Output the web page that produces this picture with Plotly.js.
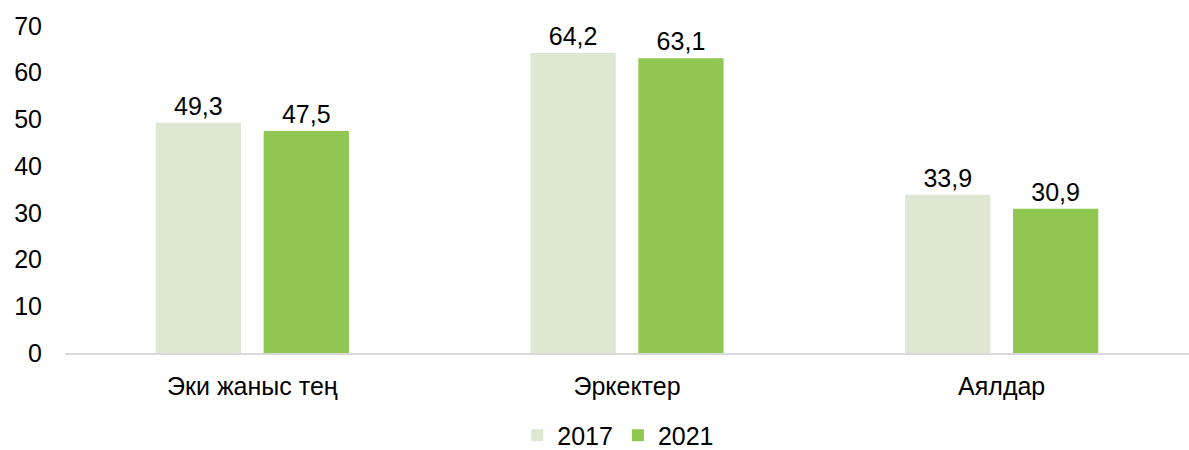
<!DOCTYPE html>
<html>
<head>
<meta charset="utf-8">
<script src="https://cdn.plot.ly/plotly-3.0.1.min.js"></script>
<style>
  html, body { margin: 0; padding: 0; background: #fff; }
  #chart { width: 1189px; height: 450px; }
</style>
</head>
<body>
<div id="chart"></div>
<script>
var categories = ['Эки жаныс тең', 'Эркектер', 'Аялдар'];
var values2017 = [49.3, 64.2, 33.9];
var values2021 = [47.5, 63.1, 30.9];
var yTicks = [0, 10, 20, 30, 40, 50, 60, 70];

var trace1 = {
  x: categories,
  y: values2017,
  name: '2017',
  type: 'bar',
  marker: {color: '#dde7d2'},
  text: values2017,
  texttemplate: '%{y:.1f}',
  textposition: 'outside',
  textfont: {size: 25},
  cliponaxis: false,
  hoverinfo: 'none'
};

var trace2 = {
  x: categories,
  y: values2021,
  name: '2021',
  type: 'bar',
  marker: {color: '#90c652'},
  text: values2021,
  texttemplate: '%{y:.1f}',
  textposition: 'outside',
  textfont: {size: 25},
  cliponaxis: false,
  hoverinfo: 'none'
};

var layout = {
  width: 1189,
  height: 450,
  margin: {l: 65, r: 0, t: 26, b: 97, autoexpand: false},
  paper_bgcolor: '#ffffff',
  plot_bgcolor: '#ffffff',
  font: {family: '"Liberation Sans", Arial, sans-serif', size: 25, color: '#000000'},
  separators: ', ',
  barmode: 'group',
  bargap: 0.424,
  bargroupgap: 0.21,
  showlegend: true,
  legend: {
    orientation: 'h',
    x: 0.52,
    xanchor: 'center',
    xref: 'container',
    y: -0.252,
    yanchor: 'middle',
    yref: 'paper',
    font: {size: 25},
    itemwidth: 30,
    traceorder: 'normal'
  },
  xaxis: {
    showgrid: false,
    showline: true,
    linecolor: '#d9d9d9',
    linewidth: 2,
    ticks: '',
    automargin: false,
    ticklabelstandoff: 10,
    tickfont: {size: 25}
  },
  yaxis: {
    range: [0, 70],
    tickvals: yTicks,
    showgrid: false,
    zeroline: false,
    showline: false,
    ticks: '',
    automargin: false,
    ticklabelstandoff: 22,
    tickfont: {size: 25}
  }
};

Plotly.newPlot('chart', [trace1, trace2], layout, {displayModeBar: false, staticPlot: true});
</script>
</body>
</html>
